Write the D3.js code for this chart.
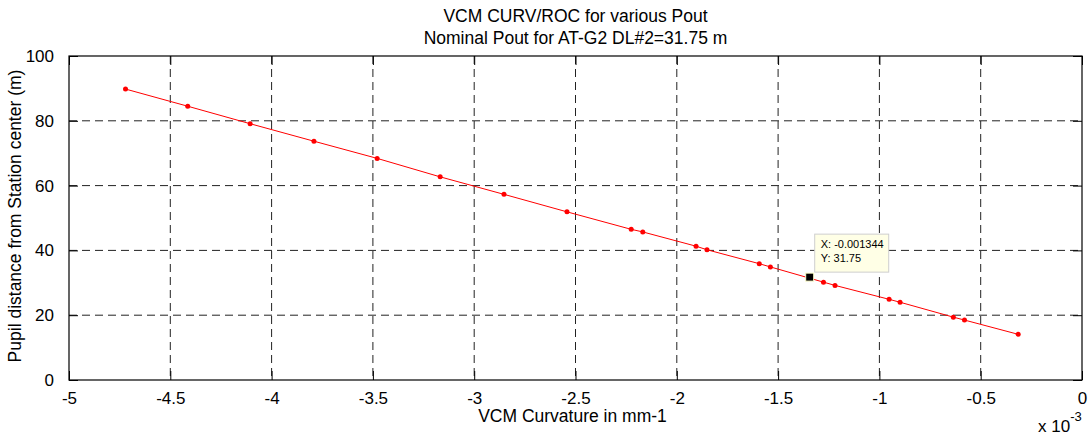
<!DOCTYPE html>
<html>
<head>
<meta charset="utf-8">
<script src="https://cdn.jsdelivr.net/npm/d3@7"></script>
<style>
	body { margin: 0; background: #fff; }
	svg { display: block; font-family: 'Liberation Sans', Arial, sans-serif; }
</style>
</head>
<body>
<svg width="1091" height="435"></svg>
<script>
// VCM curvature (mm-1) and pupil distance (m)
const curvature = [-0.004721, -0.004414, -0.004106, -0.003791, -0.003479, -0.003168, -0.002853,
	-0.002542, -0.002225, -0.002168, -0.001905, -0.001851, -0.001593, -0.001538, -0.001276,
	-0.001219, -0.000952, -0.000898, -0.000635, -0.000580, -0.000315];
const pupilDistance = [89.8, 84.5, 79.1, 73.7, 68.4, 62.7, 57.3, 51.9, 46.5, 45.7, 41.3, 40.2,
	35.9, 34.9, 30.2, 29.2, 24.9, 24.0, 19.4, 18.5, 14.1];
const xTicks = [-0.005, -0.0045, -0.004, -0.0035, -0.003, -0.0025, -0.002, -0.0015, -0.001, -0.0005, 0];
const yTicks = [0, 20, 40, 60, 80, 100];
const tipPoint = {x: -0.001344, y: 31.75};
const titleLines = ['VCM CURV/ROC for various Pout', 'Nominal Pout for AT-G2 DL#2=31.75 m'];

const svg = d3.select('svg'),
	margin = {top: 56, right: 9, bottom: 55, left: 69},
	width = 1091 - margin.left - margin.right,
	height = 435 - margin.top - margin.bottom,
	g = svg.append('g').attr('transform', `translate(${margin.left},${margin.top})`);

const x = d3.scaleLinear().domain([-0.005, 0]).range([0, width]);
const y = d3.scaleLinear().domain([0, 100]).range([height, 0]);

let points = curvature.map((c, i) => ({x: c, y: pupilDistance[i]}));

// grid
g.append('g').selectAll('line')
	.data(xTicks.slice(1, -1))
	.enter().append('line')
	.attr('x1', d => x(d)).attr('x2', d => x(d))
	.attr('y1', 0).attr('y2', height)
	.attr('stroke', '#222').attr('stroke-dasharray', '8,5');
g.append('g').selectAll('line')
	.data(yTicks.slice(1, -1))
	.enter().append('line')
	.attr('y1', d => y(d)).attr('y2', d => y(d))
	.attr('x1', 0).attr('x2', width)
	.attr('stroke', '#222').attr('stroke-dasharray', '8,5');

// axes, ticks pointing inward like matlab (plain hyphen for minus)
let xAxis = g.append('g').attr('transform', `translate(0,${height})`)
	.call(d3.axisBottom(x).tickValues(xTicks).tickSizeInner(-9).tickSizeOuter(0).tickPadding(12)
		.tickFormat(d => String(+(d * 1000).toFixed(4))));
let yAxis = g.append('g')
	.call(d3.axisLeft(y).tickValues(yTicks).tickSizeInner(-9).tickSizeOuter(0).tickPadding(15)
		.tickFormat(d => String(d)));
g.append('g')
	.call(d3.axisTop(x).tickValues(xTicks).tickSizeInner(-9).tickSizeOuter(0).tickFormat(''));
g.append('g').attr('transform', `translate(${width},0)`)
	.call(d3.axisRight(y).tickValues(yTicks).tickSizeInner(-9).tickSizeOuter(0).tickFormat(''));

g.selectAll('.domain').remove();
g.selectAll('.tick line').attr('stroke', '#000');
[xAxis, yAxis].forEach(a => a.selectAll('text')
	.attr('font-size', 17).attr('font-family', null).attr('fill', '#000'));

g.append('rect')
	.attr('width', width).attr('height', height)
	.attr('fill', 'none').attr('stroke', '#000').attr('stroke-width', 1.2);

// series
g.append('path')
	.datum(points)
	.attr('fill', 'none').attr('stroke', '#ff0000').attr('stroke-width', 1)
	.attr('d', d3.line().x(d => x(d.x)).y(d => y(d.y)));
g.append('g').selectAll('circle')
	.data(points)
	.enter().append('circle')
	.attr('cx', d => x(d.x)).attr('cy', d => y(d.y))
	.attr('r', 2.5).attr('fill', '#ff0000');

// data tip
let tx = x(tipPoint.x), ty = y(tipPoint.y);
g.append('rect')
	.attr('x', tx - 4).attr('y', ty - 4).attr('width', 8).attr('height', 8)
	.attr('fill', '#000').attr('stroke', '#ffffcc').attr('stroke-width', 1);
let tip = g.append('g').attr('transform', `translate(${tx + 5},${ty - 43})`);
tip.append('rect')
	.attr('width', 74).attr('height', 38)
	.attr('fill', '#ffffe6').attr('stroke', '#cfcfcf');
tip.append('text').attr('x', 6).attr('y', 14).attr('font-size', 11)
	.text('X: ' + tipPoint.x);
tip.append('text').attr('x', 6).attr('y', 28).attr('font-size', 11)
	.text('Y: ' + tipPoint.y);

// labels
svg.append('g').selectAll('text')
	.data(titleLines)
	.enter().append('text')
	.attr('x', margin.left + width / 2).attr('y', (d, i) => 22 + i * 21.5)
	.attr('text-anchor', 'middle').attr('font-size', 17.5)
	.text(d => d);
svg.append('text')
	.attr('x', margin.left + width / 2 - 3).attr('y', 422)
	.attr('text-anchor', 'middle').attr('font-size', 17.5)
	.text('VCM Curvature in mm-1');
svg.append('text')
	.attr('transform', `translate(21,${margin.top + height / 2 - 2}) rotate(-90)`)
	.attr('text-anchor', 'middle').attr('font-size', 17.5)
	.text('Pupil distance from Station center (m)');
let expo = svg.append('text')
	.attr('x', 1038).attr('y', 432).attr('font-size', 17);
expo.append('tspan').text('x 10');
expo.append('tspan').attr('dy', -11).attr('font-size', 13).text('-3');
</script>
</body>
</html>
